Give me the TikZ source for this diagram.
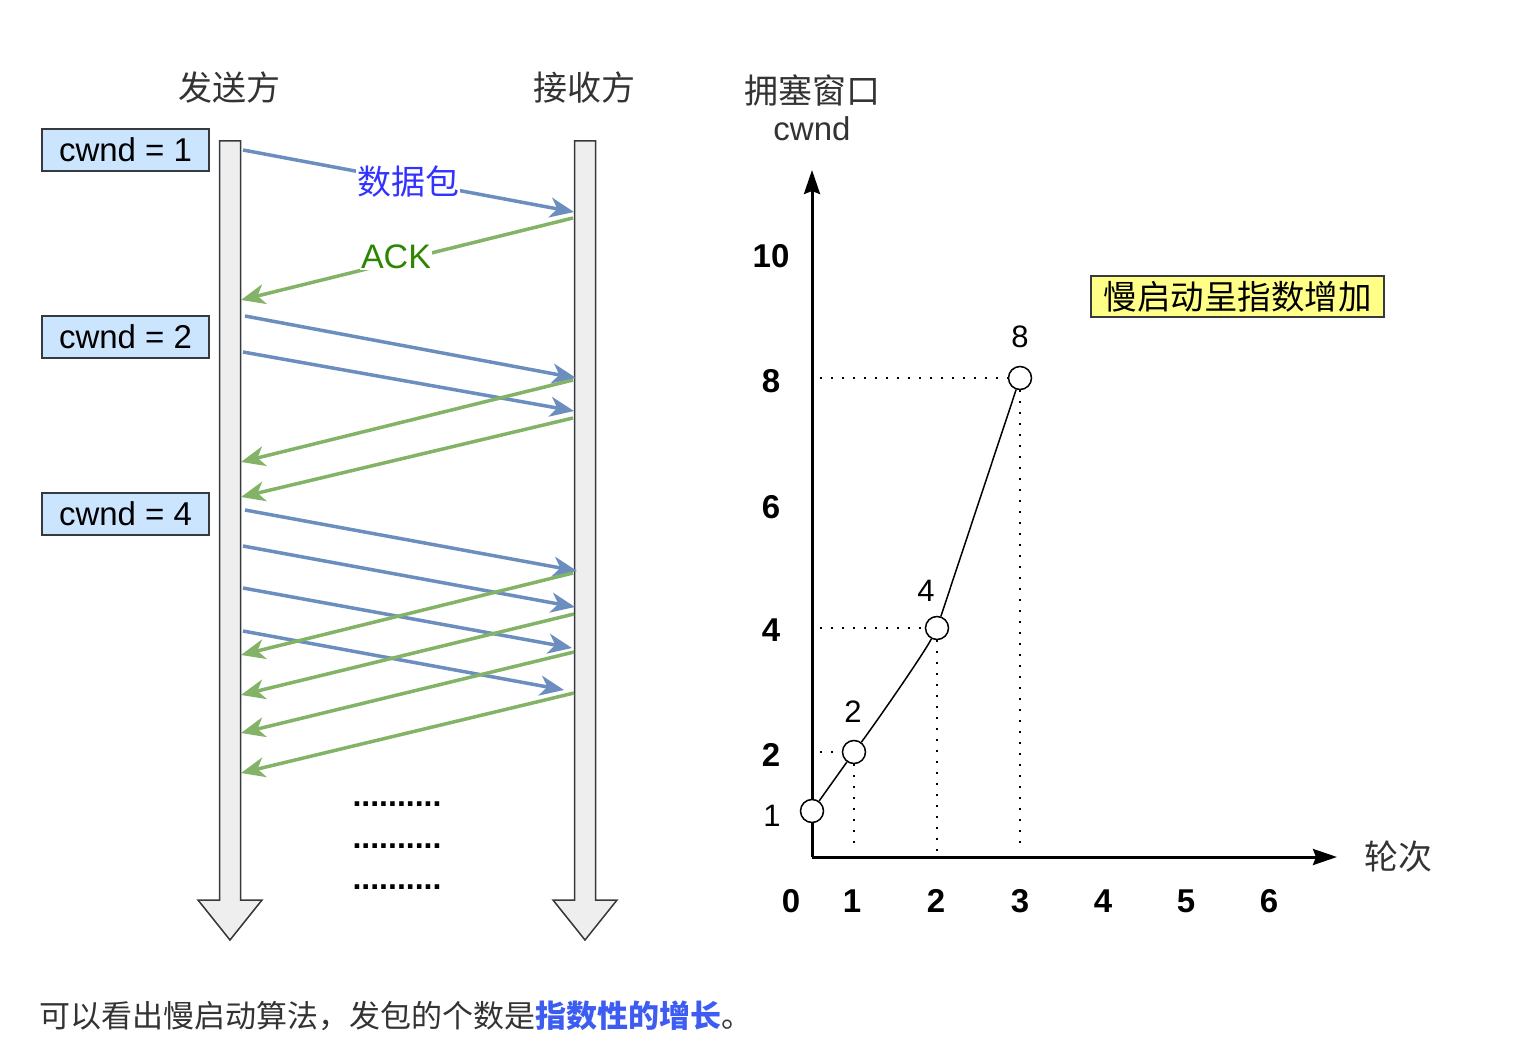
\documentclass[tikz,border=0pt]{standalone}
\usepackage{fontspec}
\setmainfont{Liberation Sans}
\newfontfamily\cjk{Noto Sans CJK SC}
\usetikzlibrary{
  arrows.meta,
  calc,
  positioning
}
\definecolor{msgblue}{HTML}{6C8EBF}
\definecolor{ackgreen}{HTML}{82B366}
\definecolor{edgegray}{HTML}{36393D}
\definecolor{barfill}{HTML}{EEEEEE}
\definecolor{boxblue}{HTML}{CCE5FF}
\definecolor{boxyellow}{HTML}{FFFF88}
\definecolor{lblblue}{HTML}{3333FF}
\definecolor{lblgreen}{HTML}{2D8600}
\definecolor{txtgray}{HTML}{333333}
\definecolor{hlblue}{HTML}{3D5CF2}

\begin{document}
\begin{tikzpicture}[x=1pt,y=-1pt,
  lifeline/.style={draw=edgegray,fill=barfill,line width=1.5pt,line join=miter},
  datamsg/.style={draw=msgblue,line width=3.5pt,-{Stealth[length=24pt,width=20pt,inset=7pt]}},
  ackmsg/.style={datamsg,draw=ackgreen},
  cwndbox/.style={draw=edgegray,fill=boxblue,line width=1.5pt,minimum width=167pt,
    minimum height=42pt,font=\fontsize{33}{38}\selectfont},
  heading/.style={font=\cjk\fontsize{34}{40}\selectfont,text=txtgray},
  dots/.style={anchor=base,font=\bfseries\fontsize{32}{38}\selectfont},
  axisline/.style={line width=3pt,-{Stealth[length=24pt,width=16pt,inset=3pt]}},
  ticklbl/.style={font=\bfseries\fontsize{33}{38}\selectfont},
  pt/.style={circle,draw,fill=white,line width=1.5pt,minimum size=23pt,inner sep=0pt},
  ptlbl/.style={font=\fontsize{31}{36}\selectfont},
  guide/.style={line width=1.5pt,dash pattern=on 1.5pt off 9.5pt}]
  \useasboundingbox (0,0) rectangle (1518,1064);

  % sender / receiver
  \node[heading] (sndlbl) at (229,88) {发送方};
  \node[heading] (rcvlbl) at (584,88) {接收方};
  \draw[lifeline] (219.5,141) -- (240.5,141) -- (240.5,900) -- (262,900)
    -- (230,940) -- (198,900) -- (219.5,900) -- cycle;
  \draw[lifeline] (574.5,141) -- (595.5,141) -- (595.5,900) -- (617,900)
    -- (585,940) -- (553,900) -- (574.5,900) -- cycle;

  \node[cwndbox] (cw1) at (125.5,150) {cwnd = 1};
  \node[cwndbox] (cw2) at (125.5,337) {cwnd = 2};
  \node[cwndbox] (cw4) at (125.5,514) {cwnd = 4};

  % packets and acks
  \foreach \n/\xa/\ya/\xb/\yb in {1/243/150/574/212, 2/245/316/576/378, 3/243/352/574/411,
      4/245/510/577/571, 5/243/546/575/607, 6/243/588/572/648, 7/243/631/564/690}{
    \coordinate (ds\n) at (\xa,\ya);
    \coordinate (de\n) at (\xb,\yb);
    \draw[datamsg] (ds\n) -- (de\n);
  }
  \foreach \n/\xa/\ya/\xb/\yb in {1/573/218/241/300, 2/573/380/241/462, 3/573/418/241/497,
      4/573/573/241/655, 5/574/614/241/695, 6/574/652/241/733, 7/574/693/241/773}{
    \coordinate (as\n) at (\xa,\ya);
    \coordinate (ae\n) at (\xb,\yb);
    \draw[ackmsg] (as\n) -- (ae\n);
  }
  \node[fill=white,inner sep=1pt,text=lblblue,font=\cjk\fontsize{34}{40}\selectfont]
    (datalbl) at (408,182) {数据包};
  \node[fill=white,inner sep=1pt,text=lblgreen,font=\fontsize{34}{40}\selectfont]
    (acklbl) at (396,257) {ACK};

  \node[dots] (dots1) at (397,806) {..........};
  \node[dots] (dots2) at (397,848) {..........};
  \node[dots] (dots3) at (397,889) {..........};

  % congestion window chart
  \coordinate (O) at (812,857);
  \coordinate (ytip) at (812,170);
  \coordinate (xtip) at (1337,857);
  \draw[axisline] (O) -- (ytip);
  \draw[axisline] (O) -- (xtip);
  \node[heading] (ylbl) at (812,90) {拥塞窗口};
  \node[font=\fontsize{33}{38}\selectfont,text=txtgray] (ylbl2) at (812,129) {cwnd};
  \node[heading] (xlbl) at (1398,857) {轮次};

  \foreach \v/\y in {10/256,8/381,6/507,4/630,2/755}
    \node[ticklbl] (yt\v) at (771,\y) {\v};
  \node[ptlbl] (yt1) at (772,816) {1};
  \foreach \v/\x in {0/791,1/852,2/936,3/1020,4/1103,5/1186,6/1269}
    \node[ticklbl] (xt\v) at (\x,901) {\v};

  \node[pt] (p1) at (812,811) {};
  \node[pt] (p2) at (854,752) {};
  \node[pt] (p4) at (937,628) {};
  \node[pt] (p8) at (1020,378) {};
  \node[ptlbl] (v2) at (853,712) {2};
  \node[ptlbl] (v4) at (926,591) {4};
  \node[ptlbl] (v8) at (1020,337) {8};

  \draw[guide] ([xshift=8pt]O |- p8) -- (p8.west);
  \draw[guide] ([xshift=8pt]O |- p4) -- (p4.west);
  \draw[guide] ([xshift=8pt]O |- p2) -- (p2.west);
  \draw[guide] (p2.south) -- ([yshift=5pt]p2 |- O);
  \draw[guide] (p4.south) -- ([yshift=5pt]p4 |- O);
  \draw[guide] (p8.south) -- ([yshift=5pt]p8 |- O);

  \draw[line width=1.5pt] (p1) -- (p2);
  \draw[line width=1.5pt] (p2) .. controls (872,728) and (923,655) .. (p4);
  \draw[line width=1.5pt] (p4) -- (p8);

  \node[draw=edgegray,fill=boxyellow,line width=1.5pt,minimum width=293pt,minimum height=41pt,
    font=\cjk\fontsize{33.5}{38}\selectfont] (note) at (1237.5,296.5) {慢启动呈指数增加};

  % caption
  \node[anchor=west,inner sep=0pt,text=txtgray,font=\cjk\fontsize{31}{36}\selectfont]
    (caption) at (39,1016) {可以看出慢启动算法，发包的个数是{\bfseries\color{hlblue}指数性的增长}。};
\end{tikzpicture}
\end{document}
